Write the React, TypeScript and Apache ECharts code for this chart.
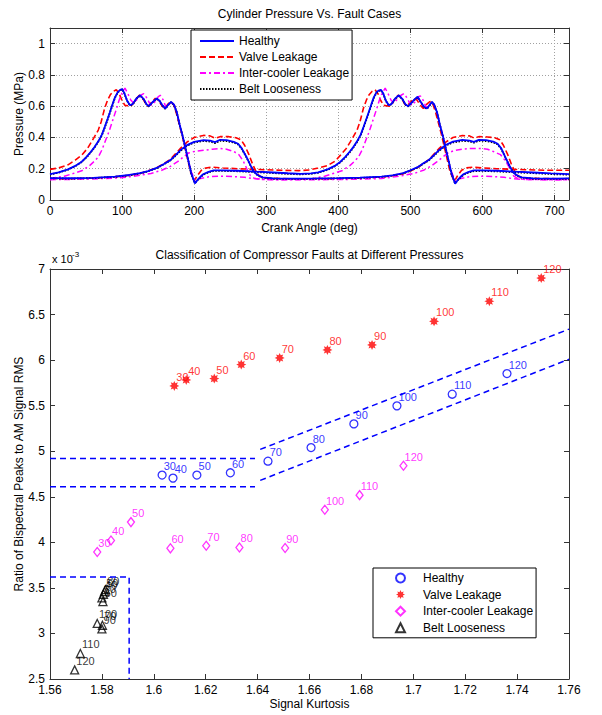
import React, { useEffect, useRef } from 'react';
import * as echarts from 'echarts';

// ---------- Top chart: cylinder pressure (deg, MPa) ----------
const healthyComp = [[0,0.165],[12,0.177],[25,0.196],[35,0.218],[44,0.245],[51,0.277],[57,0.31],[62,0.34],[67,0.375],[72,0.418],[76,0.468],[80,0.52],[83,0.56],[87,0.615],[90,0.655],[94,0.69],[97,0.703],[100,0.71],[103,0.685],[107,0.635],[111,0.606],[115,0.615],[120,0.65],[125,0.67],[130,0.645],[134,0.612],[137,0.6],[142,0.625],[148,0.649],[152,0.635],[156,0.605],[160,0.585],[164,0.61],[168,0.628],[172,0.61],[176,0.56],[180,0.48],[184,0.41],[188,0.33],[192,0.25],[196,0.17],[201,0.106],[205,0.13],[209,0.15],[213,0.166],[220,0.18],[227,0.19],[240,0.19],[260,0.187],[287,0.181],[310,0.176],[330,0.171],[348,0.167],[362,0.17],[372,0.177],[385,0.196],[395,0.218],[403,0.245],[410,0.277],[416,0.31],[421,0.34],[426,0.375],[431,0.418],[435,0.468],[439,0.52],[442,0.56],[446,0.615],[449,0.655],[453,0.69],[456,0.7],[459,0.705],[462,0.685],[466,0.635],[470,0.606],[474,0.615],[479,0.65],[484,0.67],[489,0.645],[493,0.612],[497,0.6],[502,0.625],[506,0.645],[510,0.66],[514,0.63],[519,0.595],[523,0.585],[527,0.61],[530,0.628],[533,0.61],[537,0.56],[541,0.48],[545,0.41],[549,0.33],[553,0.25],[557,0.17],[562,0.104],[566,0.13],[570,0.15],[574,0.166],[581,0.18],[588,0.19],[600,0.19],[620,0.187],[646,0.181],[670,0.176],[695,0.17],[720,0.166]];
const healthyDisc = [[0,0.14],[30,0.139],[60,0.142],[90,0.15],[110,0.16],[125,0.172],[136,0.185],[148,0.205],[158,0.23],[167,0.255],[174,0.285],[181,0.319],[190,0.351],[200,0.372],[213,0.383],[222,0.38],[229,0.37],[236,0.385],[245,0.383],[255,0.372],[261,0.36],[266,0.33],[272,0.28],[278,0.223],[283,0.18],[288,0.16],[295,0.145],[310,0.138],[340,0.137],[370,0.138],[400,0.14],[430,0.143],[460,0.15],[475,0.158],[490,0.172],[500,0.19],[510,0.21],[518,0.235],[526,0.258],[533,0.288],[540,0.32],[549,0.352],[559,0.373],[572,0.384],[582,0.38],[588,0.372],[595,0.385],[605,0.383],[615,0.373],[621,0.36],[626,0.33],[631,0.28],[637,0.223],[642,0.18],[647,0.16],[654,0.145],[670,0.138],[700,0.137],[720,0.138]];
const valveComp = [[0,0.196],[12,0.205],[25,0.225],[35,0.255],[44,0.287],[52,0.33],[58,0.375],[63,0.415],[67,0.447],[71,0.5],[76,0.59],[80,0.64],[84,0.675],[88,0.695],[92,0.705],[96,0.68],[100,0.635],[104,0.605],[112,0.6],[116,0.62],[120,0.65],[124,0.67],[128,0.655],[133,0.615],[136,0.6],[141,0.625],[146,0.65],[150,0.64],[155,0.605],[159,0.585],[163,0.61],[167,0.63],[171,0.615],[175,0.56],[179,0.49],[183,0.42],[187,0.34],[191,0.26],[195,0.18],[200,0.122],[205,0.16],[210,0.19],[216,0.205],[225,0.21],[240,0.205],[260,0.2],[290,0.195],[320,0.19],[345,0.188],[360,0.192],[372,0.205],[385,0.22],[396,0.25],[403,0.287],[411,0.33],[417,0.375],[422,0.415],[426,0.447],[430,0.5],[435,0.59],[439,0.64],[443,0.675],[447,0.695],[451,0.705],[455,0.68],[459,0.635],[463,0.605],[471,0.6],[475,0.62],[479,0.65],[483,0.67],[487,0.655],[492,0.615],[495,0.6],[500,0.625],[505,0.65],[509,0.64],[514,0.605],[518,0.585],[522,0.61],[527,0.63],[531,0.615],[535,0.56],[539,0.49],[543,0.42],[547,0.34],[551,0.26],[555,0.18],[561,0.12],[566,0.16],[571,0.19],[577,0.205],[586,0.21],[600,0.205],[620,0.2],[650,0.195],[690,0.19],[720,0.19]];
const valveDisc = [[0,0.135],[30,0.136],[60,0.14],[90,0.148],[110,0.158],[125,0.17],[136,0.187],[148,0.207],[158,0.232],[167,0.26],[174,0.295],[181,0.33],[190,0.37],[200,0.4],[213,0.413],[222,0.41],[229,0.395],[236,0.405],[248,0.405],[258,0.398],[265,0.385],[270,0.35],[276,0.29],[281,0.23],[286,0.18],[291,0.15],[298,0.14],[320,0.137],[350,0.135],[380,0.136],[410,0.138],[440,0.142],[465,0.149],[478,0.157],[490,0.168],[500,0.186],[510,0.207],[518,0.232],[526,0.26],[533,0.295],[540,0.33],[549,0.37],[559,0.4],[572,0.412],[582,0.41],[588,0.397],[595,0.405],[607,0.403],[617,0.398],[624,0.385],[629,0.35],[635,0.29],[640,0.23],[645,0.18],[650,0.15],[657,0.14],[680,0.137],[720,0.136]];
const coolerComp = [[0,0.138],[20,0.152],[44,0.187],[55,0.22],[62,0.25],[67,0.275],[72,0.32],[77,0.38],[82,0.44],[87,0.51],[92,0.58],[96,0.64],[100,0.685],[104,0.715],[108,0.68],[112,0.64],[116,0.62],[121,0.645],[126,0.67],[130,0.68],[134,0.655],[138,0.62],[141,0.606],[146,0.63],[150,0.66],[153,0.67],[157,0.64],[161,0.59],[165,0.61],[168,0.625],[172,0.61],[176,0.56],[180,0.48],[184,0.41],[188,0.33],[192,0.25],[196,0.18],[201,0.128],[206,0.135],[212,0.14],[220,0.148],[235,0.153],[255,0.15],[270,0.145],[280,0.138],[295,0.132],[320,0.13],[345,0.131],[365,0.138],[381,0.152],[405,0.187],[416,0.22],[423,0.25],[428,0.275],[433,0.32],[438,0.38],[443,0.44],[448,0.51],[453,0.58],[457,0.64],[461,0.685],[465,0.715],[469,0.68],[473,0.64],[477,0.62],[482,0.645],[487,0.67],[491,0.68],[495,0.655],[499,0.62],[502,0.606],[507,0.63],[511,0.66],[514,0.665],[518,0.635],[522,0.59],[526,0.605],[529,0.625],[533,0.61],[537,0.56],[541,0.48],[545,0.41],[549,0.33],[553,0.25],[557,0.18],[562,0.125],[567,0.135],[573,0.14],[581,0.148],[596,0.153],[615,0.15],[630,0.145],[640,0.138],[655,0.132],[690,0.13],[720,0.13]];
const coolerDisc = [[0,0.13],[30,0.132],[60,0.135],[90,0.14],[110,0.148],[125,0.158],[140,0.17],[155,0.19],[167,0.215],[177,0.245],[185,0.275],[192,0.3],[200,0.31],[213,0.318],[225,0.325],[236,0.33],[245,0.325],[255,0.31],[262,0.29],[268,0.25],[273,0.2],[278,0.155],[283,0.14],[290,0.132],[310,0.13],[340,0.13],[370,0.13],[400,0.131],[430,0.133],[460,0.138],[475,0.146],[490,0.157],[505,0.17],[518,0.19],[528,0.215],[537,0.245],[545,0.275],[552,0.3],[560,0.315],[572,0.325],[585,0.33],[598,0.33],[607,0.325],[615,0.31],[625,0.29],[632,0.25],[638,0.2],[643,0.155],[648,0.14],[655,0.132],[680,0.13],[720,0.13]];
const beltComp = [[0,0.163],[12,0.175],[25,0.194],[35,0.216],[44,0.243],[51,0.274],[57,0.307],[62,0.337],[67,0.372],[72,0.414],[76,0.463],[80,0.515],[83,0.556],[87,0.611],[90,0.652],[94,0.688],[97,0.701],[100,0.708],[103,0.684],[107,0.634],[111,0.604],[115,0.613],[120,0.648],[125,0.668],[130,0.643],[134,0.61],[137,0.598],[142,0.623],[148,0.647],[152,0.633],[156,0.603],[160,0.583],[164,0.608],[168,0.626],[172,0.608],[176,0.558],[180,0.478],[184,0.408],[188,0.328],[192,0.248],[196,0.168],[201,0.108],[205,0.128],[209,0.148],[213,0.163],[220,0.177],[227,0.186],[240,0.186],[260,0.184],[287,0.178],[310,0.172],[330,0.167],[348,0.164],[362,0.167],[372,0.174],[385,0.193],[395,0.215],[403,0.242],[410,0.273],[416,0.306],[421,0.336],[426,0.371],[431,0.413],[435,0.463],[439,0.515],[442,0.555],[446,0.61],[449,0.65],[453,0.686],[456,0.697],[459,0.702],[462,0.683],[466,0.633],[470,0.604],[474,0.613],[479,0.647],[484,0.667],[489,0.643],[493,0.61],[497,0.598],[502,0.622],[506,0.642],[510,0.657],[514,0.628],[519,0.593],[523,0.583],[527,0.607],[530,0.625],[533,0.608],[537,0.558],[541,0.478],[545,0.408],[549,0.328],[553,0.248],[557,0.168],[562,0.106],[566,0.128],[570,0.147],[574,0.162],[581,0.176],[588,0.185],[600,0.186],[620,0.183],[646,0.177],[670,0.172],[695,0.166],[720,0.162]];
const beltDisc = [[0,0.138],[30,0.137],[60,0.14],[90,0.148],[110,0.158],[125,0.17],[136,0.183],[148,0.203],[158,0.228],[167,0.253],[174,0.282],[181,0.315],[190,0.347],[200,0.367],[213,0.377],[222,0.374],[229,0.364],[236,0.378],[245,0.377],[255,0.367],[261,0.355],[266,0.327],[272,0.278],[278,0.222],[283,0.18],[288,0.158],[295,0.143],[310,0.136],[340,0.135],[370,0.136],[400,0.138],[430,0.141],[460,0.148],[475,0.156],[490,0.17],[500,0.188],[510,0.208],[518,0.232],[526,0.255],[533,0.285],[540,0.316],[549,0.348],[559,0.368],[572,0.378],[582,0.375],[588,0.367],[595,0.379],[605,0.377],[615,0.368],[621,0.355],[626,0.327],[631,0.278],[637,0.222],[642,0.18],[647,0.158],[654,0.143],[670,0.136],[700,0.135],[720,0.136]];

// ---------- Bottom chart: kurtosis vs ratio (x1e-3) ----------
const pressureLabels = ['30', '40', '50', '60', '70', '80', '90', '100', '110', '120'];
const healthyPts = [[1.6032,4.738],[1.6074,4.705],[1.6166,4.738],[1.6295,4.763],[1.644,4.891],[1.6606,5.04],[1.6771,5.30],[1.6937,5.498],[1.715,5.626],[1.7361,5.852]];
const valvePts = [[1.6079,5.717],[1.6125,5.783],[1.6233,5.797],[1.6337,5.951],[1.6485,6.024],[1.6669,6.112],[1.6841,6.167],[1.708,6.426],[1.7293,6.646],[1.7493,6.90]];
const coolerPts = [[1.5782,3.894],[1.5835,4.021],[1.5912,4.222],[1.6064,3.934],[1.6202,3.963],[1.633,3.944],[1.6506,3.937],[1.6659,4.357],[1.6793,4.518],[1.6962,4.84]];
const beltPts = [[1.5800,3.39],[1.5806,3.43],[1.5810,3.46],[1.5804,3.35],[1.5802,3.09],[1.5814,3.48],[1.5800,3.05],[1.5782,3.11],[1.5717,2.78],[1.5695,2.6]];

const healthyBandUpperFlat = [[1.56,4.92],[1.639,4.92]];
const healthyBandLowerFlat = [[1.56,4.61],[1.639,4.61]];
const healthyBandUpperSlope = [[1.641,5.02],[1.76,6.34]];
const healthyBandLowerSlope = [[1.641,4.68],[1.76,6.01]];
const beltBand = [[1.56,3.62],[1.5905,3.62],[1.5905,2.5]];

const caseNames = ['Healthy', 'Valve Leakage', 'Inter-cooler Leakage', 'Belt Looseness'];

const FONT = '"Liberation Sans", Arial, Helvetica, sans-serif';
const AXIS = '#333333';
const BLUE = '#0000ff';
const RED = '#ff0000';
const MAG = '#ff00ff';
const BLK = '#000000';

const starPath = 'path://M1,0L0.52,0.22L0.707,0.707L0.22,0.52L0,1L-0.22,0.52L-0.707,0.707L-0.52,0.22L-1,0L-0.52,-0.22L-0.707,-0.707L-0.22,-0.52L0,-1L0.22,-0.52L0.707,-0.707L0.52,-0.22Z';

function txt(text: string, x: number, y: number, opts: any = {}) {
  const align = opts.align || 'center';
  return {
    type: 'text',
    x,
    y,
    rotation: opts.rotation || 0,
    silent: true,
    style: {
      text,
      font: `${opts.size || 12}px ${FONT}`,
      fill: '#000',
      align,
      verticalAlign: 'middle',
      textAlign: align,
      textVerticalAlign: 'middle',
    },
  };
}

function valueAxis(grid: number, pos: string, min: number, max: number, interval: number, labels: boolean, split: boolean) {
  return {
    type: 'value',
    gridIndex: grid,
    position: pos,
    min,
    max,
    interval,
    axisLine: { show: true, onZero: false, lineStyle: { color: AXIS, width: 1 } },
    axisTick: { show: true, inside: true, length: 5, lineStyle: { color: AXIS, width: 1 } },
    axisLabel: {
      show: labels,
      margin: 5,
      fontSize: 12,
      color: '#000',
      fontFamily: FONT,
      showMaxLabel: labels ? (max === 720 || max === 1.1 ? false : true) : false,
    },
    splitLine: { show: split, lineStyle: { color: '#a0a0a0', type: [1, 2], width: 1 } },
  };
}

function lineSeries(name: string, data: number[][], color: string, type: any, width: number) {
  return {
    type: 'line',
    name,
    xAxisIndex: 0,
    yAxisIndex: 0,
    data,
    symbol: 'none',
    showSymbol: false,
    silent: true,
    lineStyle: { color, width, type },
    itemStyle: { color },
  };
}

function scatterSeries(name: string, data: number[][], symbol: string, size: any, color: string, filled: boolean) {
  return {
    type: 'scatter',
    name: 'b:' + name,
    xAxisIndex: 2,
    yAxisIndex: 2,
    data,
    symbol,
    symbolSize: size,
    symbolKeepAspect: true,
    silent: true,
    itemStyle: filled
      ? { color, borderWidth: 0 }
      : { color: 'rgba(0,0,0,0)', borderColor: color, borderWidth: 1.3 },
    label: {
      show: true,
      position: 'right',
      distance: 5,
      offset: [-8, -9],
      color,
      fontSize: 11,
      fontFamily: FONT,
      formatter: (p: any) => pressureLabels[p.dataIndex],
    },
  };
}

function bandSeries(data: number[][]) {
  return {
    type: 'line',
    xAxisIndex: 2,
    yAxisIndex: 2,
    data,
    symbol: 'none',
    showSymbol: false,
    silent: true,
    lineStyle: { color: BLUE, width: 1.5, type: [6, 4] },
  };
}

export default function App() {
  const ref = useRef<HTMLDivElement>(null);
  useEffect(() => {
    if (!ref.current) return;
    const chart = echarts.init(ref.current, undefined, { renderer: 'svg' });
    const option: any = {
      animation: false,
      backgroundColor: '#ffffff',
      textStyle: { fontFamily: FONT },
      grid: [
        { left: 50, top: 28, width: 519, height: 172, outerBoundsMode: 'none', containLabel: false },
        { left: 50, top: 269, width: 519, height: 410, outerBoundsMode: 'none', containLabel: false },
      ],
      xAxis: [
        valueAxis(0, 'bottom', 0, 720, 100, true, true),
        valueAxis(0, 'top', 0, 720, 100, false, false),
        valueAxis(1, 'bottom', 1.56, 1.76, 0.02, true, false),
        valueAxis(1, 'top', 1.56, 1.76, 0.02, false, false),
      ],
      yAxis: [
        valueAxis(0, 'left', 0, 1.1, 0.2, true, true),
        valueAxis(0, 'right', 0, 1.1, 0.2, false, false),
        valueAxis(1, 'left', 2.5, 7, 0.5, true, false),
        valueAxis(1, 'right', 2.5, 7, 0.5, false, false),
      ],
      legend: [
        {
          data: caseNames,
          orient: 'vertical',
          left: 191,
          top: 30,
          itemWidth: 34,
          itemHeight: 12,
          itemGap: 4,
          padding: [5, 3, 5, 8],
          borderColor: '#000',
          borderWidth: 1,
          borderRadius: 0,
          backgroundColor: '#fff',
          selectedMode: false,
          itemStyle: { opacity: 0, color: 'rgba(0,0,0,0)', borderWidth: 0 },
          textStyle: { fontSize: 12, color: '#000', fontFamily: FONT },
        },
        {
          data: caseNames.map((n) => 'b:' + n),
          formatter: (n: string) => n.slice(2),
          orient: 'vertical',
          left: 373,
          top: 568,
          itemWidth: 9,
          itemHeight: 9,
          itemGap: 4.6,
          symbolKeepAspect: true,
          padding: [4, 3, 4, 22],
          borderColor: '#000',
          borderWidth: 1,
          borderRadius: 0,
          backgroundColor: '#fff',
          selectedMode: false,
          textStyle: { fontSize: 12, color: '#000', fontFamily: FONT, padding: [0, 0, 0, 13] },
        },
      ],
      series: [
        lineSeries('Valve Leakage', valveComp, RED, [6, 3], 1.6),
        lineSeries('Valve Leakage', valveDisc, RED, [6, 3], 1.6),
        lineSeries('Inter-cooler Leakage', coolerComp, MAG, [6, 3, 2, 3], 1.5),
        lineSeries('Inter-cooler Leakage', coolerDisc, MAG, [6, 3, 2, 3], 1.5),
        lineSeries('Belt Looseness', beltComp, BLK, [1.5, 1.5], 1.8),
        lineSeries('Belt Looseness', beltDisc, BLK, [1.5, 1.5], 1.8),
        lineSeries('Healthy', healthyComp, BLUE, 'solid', 1.8),
        lineSeries('Healthy', healthyDisc, BLUE, 'solid', 1.8),
        bandSeries(healthyBandUpperFlat),
        bandSeries(healthyBandLowerFlat),
        bandSeries(healthyBandUpperSlope),
        bandSeries(healthyBandLowerSlope),
        bandSeries(beltBand),
        scatterSeries('Healthy', healthyPts, 'circle', 8, BLUE, false),
        scatterSeries('Valve Leakage', valvePts, starPath, 10, RED, true),
        scatterSeries('Inter-cooler Leakage', coolerPts, 'diamond', [7, 9], MAG, false),
        scatterSeries('Belt Looseness', beltPts, 'triangle', 8, BLK, false),
      ],
      graphic: [
        txt('Cylinder Pressure Vs. Fault Cases', 309.5, 14),
        txt('Pressure (MPa)', 19, 114, { rotation: Math.PI / 2 }),
        txt('Crank Angle (deg)', 309.5, 228),
        txt('Classification of Compressor Faults at Different Pressures', 309.5, 255),
        txt('x 10', 52, 259, { align: 'left', size: 11 }),
        txt('-3', 72, 254, { align: 'left', size: 8 }),
        txt('Ratio of Bispectral Peaks to AM Signal RMS', 19, 474, { rotation: Math.PI / 2 }),
        txt('Signal Kurtosis', 309.5, 704),
      ],
    };
    chart.setOption(option);
    return () => chart.dispose();
  }, []);
  return (
    <div
      ref={ref}
      style={{ position: 'absolute', left: 0, top: 0, width: 602, height: 715, background: '#fff' }}
    />
  );
}
